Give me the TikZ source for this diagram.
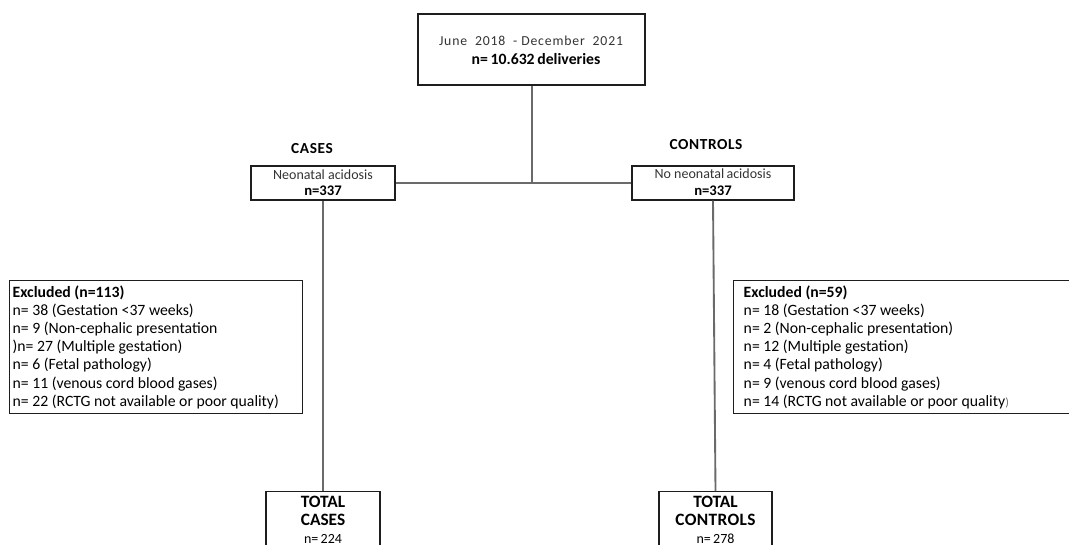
\documentclass[tikz,border=0pt]{standalone}
\usepackage{fontspec}
\setmainfont{Carlito}
\newfontfamily\spacedfont[LetterSpace=6]{Carlito}
\definecolor{linegray}{HTML}{6A6A6A}
\definecolor{boxdark}{HTML}{1E1E1E}
\definecolor{txtgray}{HTML}{333333}
\begin{document}
\begin{tikzpicture}[x=0.75pt,y=-0.75pt,
  box/.style={draw=boxdark,line width=1.1pt,rectangle,inner sep=0pt,align=center},
  conn/.style={draw=linegray,line width=1.4pt},
  exbox/.style={draw=boxdark,line width=1.1pt,rectangle,anchor=north west,inner ysep=0pt,align=flush left,
    font=\fontsize{11.8}{13.6}\selectfont},
  lbl/.style={font=\fontsize{11.5}{13}\selectfont\bfseries}]
\useasboundingbox (0,0) rectangle (1069,544);
\clip (0,0) rectangle (1069,544);
% top box
\node[box,minimum width=227*0.75pt,minimum height=71*0.75pt] (top) at (531.5,49.5) {};
\node[font=\fontsize{10.3}{12}\selectfont\spacedfont,text=txtgray,inner sep=0pt] (topl1) at (531,40.5) {June\ \ 2018\ \ - December\ \ 2021};
\node[font=\fontsize{11.8}{13}\selectfont\bfseries,inner sep=0pt] (topl2) at (536,59.5) {n=\,10.632\,deliveries};
% cases / controls labels
\node[lbl,inner sep=0pt] (caseslbl) at (312,149) {\addfontfeatures{LetterSpace=4}CASES};
\node[lbl,inner sep=0pt] (ctrllbl) at (706,145) {\addfontfeatures{LetterSpace=4}CONTROLS};
% second level boxes
\node[box,minimum width=144*0.75pt,minimum height=34*0.75pt] (cases) at (323,183) {};
\node[font=\fontsize{10.5}{12}\selectfont,text=txtgray,inner sep=0pt] (casesl1) at (323,175) {Neonatal acidosis};
\node[font=\fontsize{11}{12}\selectfont\bfseries,inner sep=0pt] (casesl2) at (323,191) {n=337};
\node[box,minimum width=162*0.75pt,minimum height=34*0.75pt] (controls) at (713,183) {};
\node[font=\fontsize{10.5}{12}\selectfont,text=txtgray,inner sep=0pt] (ctrll1) at (713,174) {No neonatal\,acidosis};
\node[font=\fontsize{11}{12}\selectfont\bfseries,inner sep=0pt] (ctrll2) at (713,191) {n=337};
% excluded boxes
\node[exbox,inner xsep=2.2pt,text width=287*0.75pt,minimum height=133*0.75pt] (exl) at (9,280) {%
\textbf{Excluded (n=113)}\\
n= 38 (Gestation <37 weeks)\\
n= 9 (Non-cephalic presentation\\
)n= 27 (Multiple gestation)\\
n= 6 (Fetal pathology)\\
n= 11 (venous cord blood gases)\\
n= 22 (RCTG not available or poor quality)};
\node[exbox,inner xsep=7.5pt,text width=325*0.75pt,minimum height=133*0.75pt] (exr) at (733,280) {%
\textbf{Excluded (n=59)}\\
n= 18 (Gestation <37 weeks)\\
n= 2 (Non-cephalic presentation)\\
n= 12 (Multiple gestation)\\
n= 4 (Fetal pathology)\\
n= 9 (venous cord blood gases)\\
n= 14 (RCTG not available or poor quality{\fontsize{9}{10}\selectfont\color{linegray})}};
% total boxes
\node[box,anchor=north,minimum width=114*0.75pt,minimum height=70*0.75pt] (totc) at (323,491) {};
\node[font=\fontsize{13}{14}\selectfont\bfseries,inner sep=0pt] (totcl1) at (323,501.5) {TOTAL};
\node[font=\fontsize{13}{14}\selectfont\bfseries,inner sep=0pt] (totcl2) at (323,520) {CASES};
\node[font=\fontsize{10.5}{12}\selectfont,inner sep=0pt] (totcl3) at (323,539) {n=\,224};
\node[box,anchor=north,minimum width=113*0.75pt,minimum height=70*0.75pt] (totk) at (715.5,491) {};
\node[font=\fontsize{13}{14}\selectfont\bfseries,inner sep=0pt] (totkl1) at (715.5,501.5) {TOTAL};
\node[font=\fontsize{13}{14}\selectfont\bfseries,inner sep=0pt] (totkl2) at (715.5,520) {\addfontfeatures{LetterSpace=2}CONTROLS};
\node[font=\fontsize{10.5}{12}\selectfont,inner sep=0pt] (totkl3) at (715.5,539) {n=\,278};
% connectors
\coordinate (j) at (532,183);
\draw[conn] (top.south -| j) -- (j);
\draw[conn] (cases.east) -- (controls.west);
\draw[conn] (cases.south) -- (totc.north);
\draw[conn] (controls.south) -- (totk.north);
\end{tikzpicture}
\end{document}
